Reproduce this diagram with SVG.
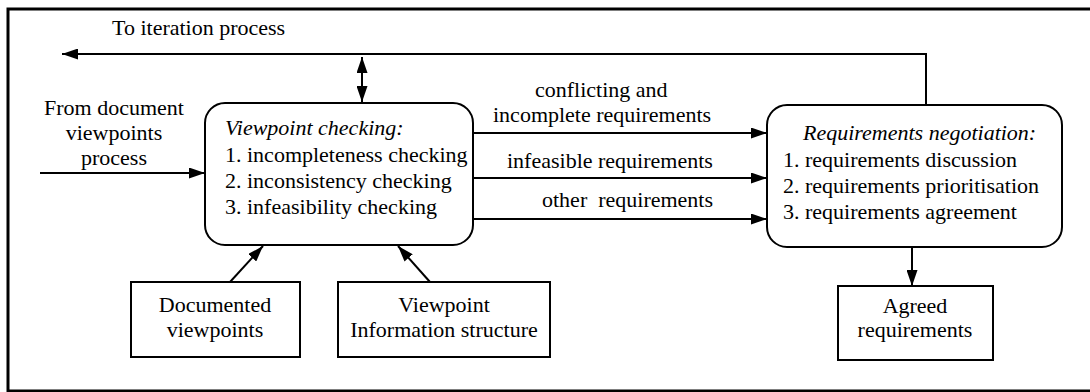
<svg xmlns="http://www.w3.org/2000/svg" width="1090" height="392" viewBox="0 0 1090 392">
  <style>
    text { font-family: "Liberation Serif", "Times New Roman", serif; font-size: 22px; fill: #000; }
    .it { font-style: italic; }
    .mid { text-anchor: middle; }
    .box { fill: #fff; stroke: #000; stroke-width: 2; }
    .wire { fill: none; stroke: #000; stroke-width: 2; }
  </style>
  <defs>
    <marker id="head" viewBox="0 0 16 11" refX="16" refY="5.5" markerWidth="16" markerHeight="11" markerUnits="userSpaceOnUse" orient="auto-start-reverse">
      <path d="M0,0 L16,5.5 L0,11 Z" fill="#000"/>
    </marker>
  </defs>

  <rect width="1090" height="392" fill="#fff"/>

  <!-- outer frame, open on the right -->
  <path d="M1092,9 H8 V391 H1092" fill="none" stroke="#000" stroke-width="3"/>

  <!-- connectors -->
  <g id="connectors">
    <path class="wire" d="M926,105 V54 H62" marker-end="url(#head)"/>
    <line class="wire" x1="362" y1="57" x2="362" y2="102" marker-start="url(#head)" marker-end="url(#head)"/>
    <line class="wire" x1="40" y1="173" x2="205" y2="173" marker-end="url(#head)"/>
    <line class="wire" x1="473" y1="133" x2="767" y2="133" marker-end="url(#head)"/>
    <line class="wire" x1="473" y1="178" x2="767" y2="178" marker-end="url(#head)"/>
    <line class="wire" x1="473" y1="219" x2="767" y2="219" marker-end="url(#head)"/>
    <line class="wire" x1="912" y1="247" x2="912" y2="286" marker-end="url(#head)"/>
    <line class="wire" x1="230" y1="282" x2="263" y2="246" marker-end="url(#head)"/>
    <line class="wire" x1="430" y1="282" x2="398" y2="246" marker-end="url(#head)"/>
  </g>

  <!-- free labels -->
  <g id="labels">
    <text x="112" y="35">To iteration process</text>
    <text class="mid" x="114" y="115">From document</text>
    <text class="mid" x="114" y="140">viewpoints</text>
    <text class="mid" x="114" y="165">process</text>
    <text x="535" y="97">conflicting and</text>
    <text x="493" y="122">incomplete requirements</text>
    <text x="507" y="168">infeasible requirements</text>
    <text x="542" y="207" xml:space="preserve">other  requirements</text>
  </g>

  <g id="viewpoint-checking">
    <rect class="box" x="205" y="103" width="268" height="142" rx="20"/>
    <text class="it" x="225" y="135">Viewpoint checking:</text>
    <text x="225" y="162">1. incompleteness checking</text>
    <text x="225" y="188">2. inconsistency checking</text>
    <text x="225" y="214">3. infeasibility checking</text>
  </g>

  <g id="requirements-negotiation">
    <rect class="box" x="767" y="105" width="295" height="142" rx="20"/>
    <text class="it" x="803" y="140">Requirements negotiation:</text>
    <text x="783" y="167">1. requirements discussion</text>
    <text x="783" y="193">2. requirements prioritisation</text>
    <text x="783" y="219">3. requirements agreement</text>
  </g>

  <g id="documented-viewpoints">
    <rect class="box" x="131" y="282" width="169" height="75"/>
    <text class="mid" x="215" y="312">Documented</text>
    <text class="mid" x="215" y="337">viewpoints</text>
  </g>

  <g id="viewpoint-information-structure">
    <rect class="box" x="338" y="282" width="212" height="75"/>
    <text class="mid" x="444" y="312">Viewpoint</text>
    <text class="mid" x="444" y="337">Information structure</text>
  </g>

  <g id="agreed-requirements">
    <rect class="box" x="838" y="286" width="155" height="74"/>
    <text class="mid" x="915" y="313">Agreed</text>
    <text class="mid" x="915" y="337">requirements</text>
  </g>
</svg>
